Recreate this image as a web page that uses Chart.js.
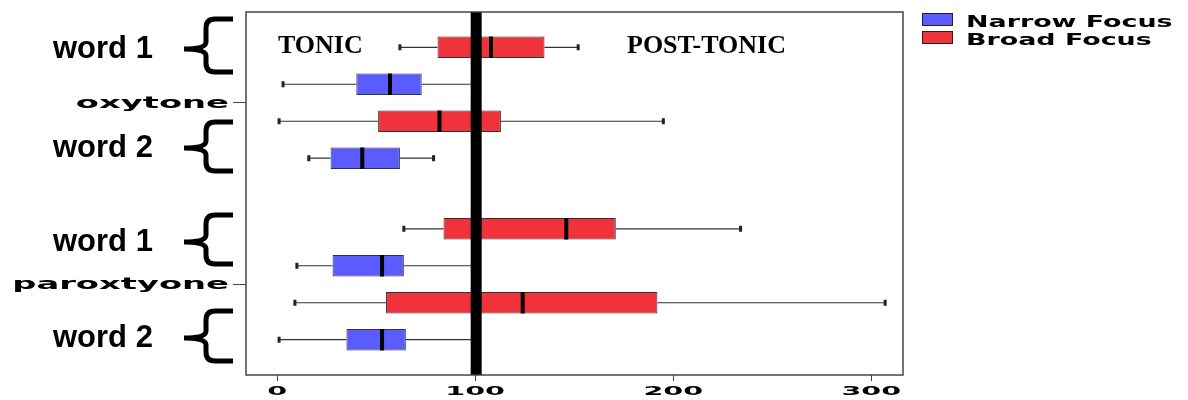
<!DOCTYPE html>
<html>
<head>
<meta charset="utf-8">
<script src="https://cdn.jsdelivr.net/npm/chart.js@4.4.0/dist/chart.umd.min.js"></script>
<style>
  html, body { margin: 0; padding: 0; background: #fff; }
  #wrap { width: 1188px; height: 400px; position: relative; }
</style>
</head>
<body>
<div id="wrap"><canvas id="focusBoxplot"></canvas></div>
<script>
const categories = ['oxytone', 'paroxtyone'];
const xTicks = [0, 100, 200, 300];
// one row per category: [min, q1, median, q3, max]
const word1Broad  = [[62, 81, 108, 135, 152], [64, 84, 146, 171, 234]];
const word1Narrow = [[3, 40, 57, 73, 99], [10, 28, 53, 64, 99]];
const word2Broad  = [[1, 51, 82, 113, 195], [9, 55, 124, 192, 307]];
const word2Narrow = [[16, 27, 43, 62, 79], [1, 35, 53, 65, 99]];
const legendLabels = ['Narrow Focus', 'Broad Focus'];
const wordLabels = ['word 1', 'word 2', 'word 1', 'word 2'];
const regionLabels = ['TONIC', 'POST-TONIC'];

(function () {
  'use strict';

  const BLUE = '#5a5cff';
  const RED = '#f0333a';
  const SANS = '"Liberation Sans", Arial, sans-serif';
  const WIDE = '"DejaVu Sans", sans-serif';
  const SERIF = '"Liberation Serif", "Times New Roman", serif';

  function boxSet(name, stats, color) {
    return {
      label: name,
      stats: stats,
      data: stats.map(s => [s[1], s[3]]),
      backgroundColor: color,
      borderColor: '#333',
      borderWidth: 1,
      borderSkipped: false,
      categoryPercentage: 0.815,
      barPercentage: 0.58
    };
  }

  // horizontally stretched text, like the exported SPSS fonts
  function wideText(ctx, text, x, y, font, sx, align) {
    ctx.save();
    ctx.translate(x, y);
    ctx.scale(sx, 1);
    ctx.font = font;
    ctx.textAlign = align;
    ctx.textBaseline = 'alphabetic';
    ctx.fillStyle = '#000';
    ctx.fillText(text, 0, 0);
    ctx.restore();
  }

  function brace(ctx, top, mid, bottom) {
    const xr = 233, xs = 206, xl = 184;
    ctx.save();
    ctx.beginPath();
    ctx.moveTo(xr, top);
    ctx.lineTo(xs + 9, top);
    ctx.quadraticCurveTo(xs, top, xs, top + 9);
    ctx.lineTo(xs, mid - 7);
    ctx.quadraticCurveTo(xs, mid, xl, mid);
    ctx.quadraticCurveTo(xs, mid, xs, mid + 7);
    ctx.lineTo(xs, bottom - 9);
    ctx.quadraticCurveTo(xs, bottom, xs + 9, bottom);
    ctx.lineTo(xr, bottom);
    ctx.lineWidth = 5;
    ctx.strokeStyle = '#000';
    ctx.stroke();
    ctx.restore();
  }

  const boxExtras = {
    id: 'boxExtras',
    beforeDatasetsDraw: function (chart) {
      const ctx = chart.ctx, xs = chart.scales.x;
      chart.data.datasets.forEach((ds, i) => {
        chart.getDatasetMeta(i).data.forEach((bar, j) => {
          const s = ds.stats[j];
          const y = bar.y;
          ctx.save();
          ctx.strokeStyle = '#333';
          ctx.lineWidth = 1.2;
          ctx.beginPath();
          ctx.moveTo(xs.getPixelForValue(s[0]), y);
          ctx.lineTo(xs.getPixelForValue(s[1]), y);
          ctx.moveTo(xs.getPixelForValue(s[3]), y);
          ctx.lineTo(xs.getPixelForValue(s[4]), y);
          ctx.stroke();
          ctx.fillStyle = '#222';
          [s[0], s[4]].forEach(v => ctx.fillRect(xs.getPixelForValue(v) - 1.5, y - 3, 3, 6));
          ctx.restore();
        });
      });
    },
    afterDatasetsDraw: function (chart) {
      const ctx = chart.ctx, xs = chart.scales.x, area = chart.chartArea;
      chart.data.datasets.forEach((ds, i) => {
        chart.getDatasetMeta(i).data.forEach((bar, j) => {
          const m = xs.getPixelForValue(ds.stats[j][2]);
          ctx.save();
          ctx.fillStyle = '#000';
          ctx.fillRect(m - 2, bar.y - bar.height / 2, 4, bar.height);
          ctx.restore();
        });
      });
      // reference line at 100
      const r = xs.getPixelForValue(100);
      ctx.save();
      ctx.fillStyle = '#000';
      ctx.fillRect(r - 4.5, area.top, 11, area.bottom - area.top);
      ctx.strokeStyle = '#444';
      ctx.lineWidth = 1.5;
      ctx.strokeRect(area.left, area.top, area.right - area.left, area.bottom - area.top);
      ctx.restore();
    },
    afterDraw: function (chart) {
      const ctx = chart.ctx, xs = chart.scales.x, ys = chart.scales.y;

      xTicks.forEach(v => {
        wideText(ctx, String(v), xs.getPixelForValue(v), 395, 'bold 13px ' + WIDE, 2.2, 'center');
      });
      categories.forEach((c, i) => {
        wideText(ctx, c, 229, ys.getPixelForValue(i) + 5, 'bold 15px ' + WIDE, 2.25, 'right');
      });

      wideText(ctx, regionLabels[0], 278, 53, 'bold 26px ' + SERIF, 1, 'left');
      wideText(ctx, regionLabels[1], 627, 53, 'bold 26px ' + SERIF, 1, 'left');

      const braceSpans = [[19, 49, 72], [122, 148, 171], [215, 242, 264], [311, 338, 361]];
      wordLabels.forEach((w, i) => {
        const b = braceSpans[i];
        ctx.save();
        ctx.font = 'bold 31px ' + SANS;
        ctx.textAlign = 'left';
        ctx.textBaseline = 'middle';
        ctx.fillStyle = '#000';
        ctx.fillText(w, 53, b[1]);
        ctx.restore();
        brace(ctx, b[0], b[1], b[2]);
      });

      // legend
      [BLUE, RED].forEach((col, i) => {
        const top = 13 + i * 18;
        ctx.save();
        ctx.fillStyle = col;
        ctx.fillRect(922, top, 31, 13);
        ctx.strokeStyle = '#222';
        ctx.lineWidth = 1;
        ctx.strokeRect(922.5, top + 0.5, 30, 12);
        ctx.restore();
        wideText(ctx, legendLabels[i], 966, top + 13.5, 'bold 16px ' + WIDE, 1.68, 'left');
      });
    }
  };

  new Chart(document.getElementById('focusBoxplot'), {
    type: 'bar',
    data: {
      labels: categories,
      datasets: [
        boxSet('word 1 Broad Focus', word1Broad, RED),
        boxSet('word 1 Narrow Focus', word1Narrow, BLUE),
        boxSet('word 2 Broad Focus', word2Broad, RED),
        boxSet('word 2 Narrow Focus', word2Narrow, BLUE)
      ]
    },
    options: {
      indexAxis: 'y',
      responsive: true,
      maintainAspectRatio: false,
      animation: false,
      layout: {
        padding: { left: 0, top: 12, right: 285, bottom: 0 }
      },
      scales: {
        x: {
          type: 'linear',
          min: -15.7,
          max: 316,
          afterBuildTicks: function (scale) {
            scale.ticks = xTicks.map(v => ({ value: v }));
          },
          afterFit: function (scale) {
            scale.height = 25;
          },
          border: { display: false },
          grid: {
            display: true,
            drawOnChartArea: false,
            drawTicks: true,
            tickLength: 6,
            color: '#444'
          },
          ticks: { display: false }
        },
        y: {
          afterFit: function (scale) {
            scale.width = 246;
          },
          border: { display: false },
          grid: {
            display: true,
            offset: false,
            drawOnChartArea: false,
            drawTicks: true,
            tickLength: 13,
            color: '#444'
          },
          ticks: { display: false }
        }
      },
      plugins: {
        legend: { display: false },
        tooltip: { enabled: false }
      }
    },
    plugins: [boxExtras]
  });
})();
</script>
</body>
</html>
